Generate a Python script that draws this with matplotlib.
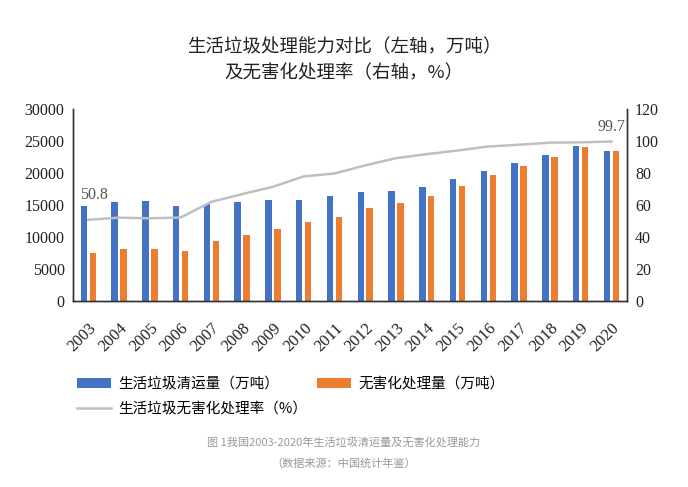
import numpy as np
import matplotlib.pyplot as plt

plt.rcParams['font.family'] = ['Noto Sans CJK SC', 'DejaVu Sans']

years = [str(y) for y in range(2003, 2021)]
# 生活垃圾清运量（万吨）
qingyun = [14857, 15509, 15577, 14841, 15215, 15438, 15734, 15805, 16395,
           17081, 17239, 17860, 19142, 20362, 21521, 22802, 24206, 23512]
# 无害化处理量（万吨）
wuhai = [7545, 8089, 8051, 7873, 9438, 10307, 11220, 12318, 13090,
         14490, 15394, 16394, 18013, 19674, 21034, 22565, 24013, 23452]
# 无害化处理率（%）
rate = [50.8, 52.1, 51.7, 52.2, 62.0, 66.8, 71.4, 77.9, 79.7,
        84.8, 89.3, 91.8, 94.1, 96.6, 97.7, 99.0, 99.2, 99.7]

blue = '#4472C4'
orange = '#ED7D31'
grey = '#BFBFBF'
serif = 'Liberation Serif'

fig = plt.figure(figsize=(6.88, 4.87), dpi=100)
ax = fig.add_axes([0.106, 0.382, 0.805, 0.394])
ax2 = ax.twinx()

x = np.arange(len(years))
w = 0.21
b1 = ax.bar(x - 0.145, qingyun, w, color=blue, label='生活垃圾清运量（万吨）')
b2 = ax.bar(x + 0.145, wuhai, w, color=orange, label='无害化处理量（万吨）')
l1, = ax2.plot(x, rate, color=grey, lw=1.8, label='生活垃圾无害化处理率（%）')

ax.set_xlim(-0.5, len(years) - 0.5)
ax.set_ylim(0, 30000)
ax.set_yticks(range(0, 30001, 5000))
ax2.set_ylim(0, 120)
ax2.set_yticks(range(0, 121, 20))

ax.set_xticks(x)
ax.set_xticklabels(years, rotation=45, ha='right', rotation_mode='anchor',
                   family=serif, fontsize=12)
for lab in ax.get_yticklabels():
    lab.set_family(serif)
    lab.set_fontsize(11.5)
for lab in ax2.get_yticklabels():
    lab.set_family(serif)
    lab.set_fontsize(11.5)

for a in (ax, ax2):
    a.spines['top'].set_visible(False)
    a.tick_params(length=0, colors='#222222')
    for s in ('left', 'right', 'bottom'):
        a.spines[s].set_color('#333333')
        a.spines[s].set_linewidth(1.0)
ax.tick_params(axis='y', pad=6)
ax2.tick_params(axis='y', pad=6)
ax.tick_params(axis='x', pad=14)

ax2.annotate('50.8', (x[0], rate[0]), xytext=(-6, 12), textcoords='offset points',
             ha='left', va='bottom', family=serif, fontsize=11.5, color='#555555')
ax2.annotate('99.7', (x[-1], rate[-1]), xytext=(0, 5), textcoords='offset points',
             ha='center', va='bottom', family=serif, fontsize=11.5, color='#555555')

fig.text(0.5, 0.903, '生活垃圾处理能力对比（左轴，万吨）', ha='center', va='center',
         fontsize=13.3, color='#222222')
fig.text(0.5, 0.850, '及无害化处理率（右轴，%）', ha='center', va='center',
         fontsize=13.3, color='#222222')

fig.legend([b1, l1, b2], [b1.get_label(), l1.get_label(), b2.get_label()],
           ncol=2, loc='upper left', bbox_to_anchor=(0.112, 0.226),
           frameon=False, fontsize=10.5, handlelength=2.3, handleheight=0.7,
           columnspacing=0.7, labelspacing=0.75, handletextpad=0.5,
           borderpad=0, borderaxespad=0)

fig.text(0.5, 0.091, '图 1我国2003-2020年生活垃圾清运量及无害化处理能力', ha='center',
         va='center', fontsize=8, color='#999999')
fig.text(0.5, 0.049, '（数据来源：中国统计年鉴）', ha='center', va='center',
         fontsize=8, color='#999999')

fig.savefig('out.png', dpi=100)
